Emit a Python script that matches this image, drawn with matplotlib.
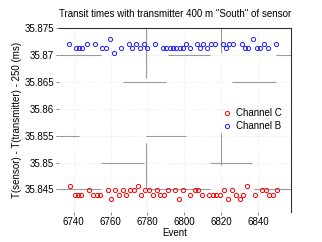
import matplotlib
matplotlib.use("Agg")
import matplotlib.pyplot as plt
from matplotlib.ticker import FormatStrFormatter

# ======================================================
# DATA
# ======================================================

event_b = [6737.5, 6741.1, 6742.9, 6744.7, 6747.4, 6751.5, 6755.5, 6757.7, 6759.6,
           6761.8, 6765.8, 6769.9, 6771.7, 6774.1, 6775.9, 6778.0, 6779.8, 6784.3,
           6788.5, 6790.3, 6792.1, 6793.9, 6795.7, 6797.5, 6799.3, 6800.7, 6802.9,
           6806.8, 6808.6, 6810.4, 6812.3, 6814.4, 6816.8, 6820.9, 6822.7, 6824.5,
           6826.3, 6831.2, 6833.0, 6834.8, 6837.1, 6839.3, 6841.1, 6843.2, 6845.6,
           6849.7]
dt_b = [35.87205, 35.87136, 35.87136, 35.87136, 35.87205, 35.87205, 35.87136, 35.87136,
        35.87293, 35.87043, 35.87136, 35.87205, 35.87136, 35.87205, 35.87136, 35.87205,
        35.87136, 35.87205, 35.87136, 35.87136, 35.87136, 35.87136, 35.87136, 35.87136,
        35.87136, 35.87205, 35.87136, 35.87205, 35.87136, 35.87205, 35.87136, 35.87205,
        35.87205, 35.87205, 35.87136, 35.87205, 35.87205, 35.87205, 35.87136, 35.87136,
        35.87293, 35.87136, 35.87136, 35.87205, 35.87136, 35.87205]

event_c = [6738.0, 6740.5, 6742.3, 6744.1, 6748.3, 6750.6, 6752.4, 6754.2, 6758.5,
           6760.5, 6762.7, 6764.5, 6766.8, 6768.6, 6770.8, 6772.6, 6775.0, 6776.8,
           6778.9, 6781.1, 6783.1, 6785.2, 6787.0, 6788.8, 6791.2, 6795.1, 6797.3,
           6799.3, 6803.2, 6805.6, 6807.7, 6809.6, 6813.7, 6815.5, 6817.3, 6819.5,
           6821.8, 6824.0, 6825.8, 6828.0, 6830.3, 6832.1, 6834.2, 6838.4, 6842.3,
           6844.2, 6846.1, 6848.0, 6850.6]
dt_c = [35.84556, 35.84401, 35.84401, 35.84401, 35.84481, 35.84401, 35.84401, 35.84401,
        35.84481, 35.84326, 35.84481, 35.84401, 35.84481, 35.84401, 35.84481, 35.84481,
        35.84556, 35.84401, 35.84481, 35.84481, 35.84401, 35.84481, 35.84401, 35.84401,
        35.84481, 35.84481, 35.84326, 35.84481, 35.84401, 35.84481, 35.84481, 35.84401,
        35.84401, 35.84401, 35.84401, 35.84401, 35.84481, 35.84326, 35.84481, 35.84401,
        35.84326, 35.84401, 35.84556, 35.84401, 35.84481, 35.84481, 35.84401, 35.84401,
        35.84481]

x_ticks = [6740, 6760, 6780, 6800, 6820, 6840]
y_ticks = [35.845, 35.85, 35.855, 35.86, 35.865, 35.87, 35.875]

# leftover box / grid fragments seen in the original render
h_frag_y = [35.87, 35.87, 35.87, 35.865, 35.865, 35.855, 35.855,
            35.85, 35.85, 35.845, 35.845, 35.845]
h_frag_x0 = [6732, 6791, 6850, 6767, 6826, 6732, 6779, 6755, 6814, 6732, 6779, 6838]
h_frag_x1 = [6755, 6814, 6858, 6790, 6850, 6743, 6801, 6778, 6837, 6755, 6814, 6858]
v_frag_x = [6779, 6779, 6820, 6820]
v_frag_y0 = [35.8657, 35.8452, 35.8704, 35.8495]
v_frag_y1 = [35.875, 35.8536, 35.875, 35.8555]

# ======================================================
# PLOT
# ======================================================

plt.rcParams["font.family"] = ["Liberation Sans", "DejaVu Sans"]

fig = plt.figure(figsize=(3.22, 2.42), dpi=100)
ax = fig.add_axes([0.183, 0.124, 0.721, 0.76])

ax.grid(True, color="#e4e4e4", linestyle=":", linewidth=0.6)
ax.set_axisbelow(True)

ax.hlines(h_frag_y, h_frag_x0, h_frag_x1, color="#9a9a9a", linewidth=0.8)
ax.vlines(v_frag_x, v_frag_y0, v_frag_y1, color="#9a9a9a", linewidth=0.8)

ax.plot(event_c, dt_c, "o", mfc="none", mec="red", ms=3, mew=0.7,
        label="Channel C")
ax.plot(event_b, dt_b, "o", mfc="none", mec="#2020ff", ms=3, mew=0.7,
        label="Channel B")

ax.set_xlim(6732, 6858)
ax.set_ylim(35.8408, 35.875)
ax.set_xticks(x_ticks)
ax.set_yticks(y_ticks)
ax.yaxis.set_major_formatter(FormatStrFormatter("%g"))

for s in ["left", "bottom"]:
    ax.spines[s].set_visible(False)
for s in ["top", "right"]:
    ax.spines[s].set_color("#333333")
    ax.spines[s].set_linewidth(0.8)

ax.tick_params(labelsize=7, length=2, width=0.6, color="#777777", pad=1.5)

ax.set_title('Transit times with transmitter 400 m "South" of sensor',
             fontsize=7, pad=8)
ax.set_xlabel("Event", fontsize=7, labelpad=1)
ax.set_ylabel("T(sensor) - T(transmitter) - 250 (ms)", fontsize=7, labelpad=2)

ax.legend(loc="upper left", bbox_to_anchor=(0.673, 0.6), frameon=False,
          fontsize=7, handlelength=1.0, handletextpad=0.4, borderpad=0.2,
          labelspacing=0.3)

fig.savefig("out.png", dpi=100)
